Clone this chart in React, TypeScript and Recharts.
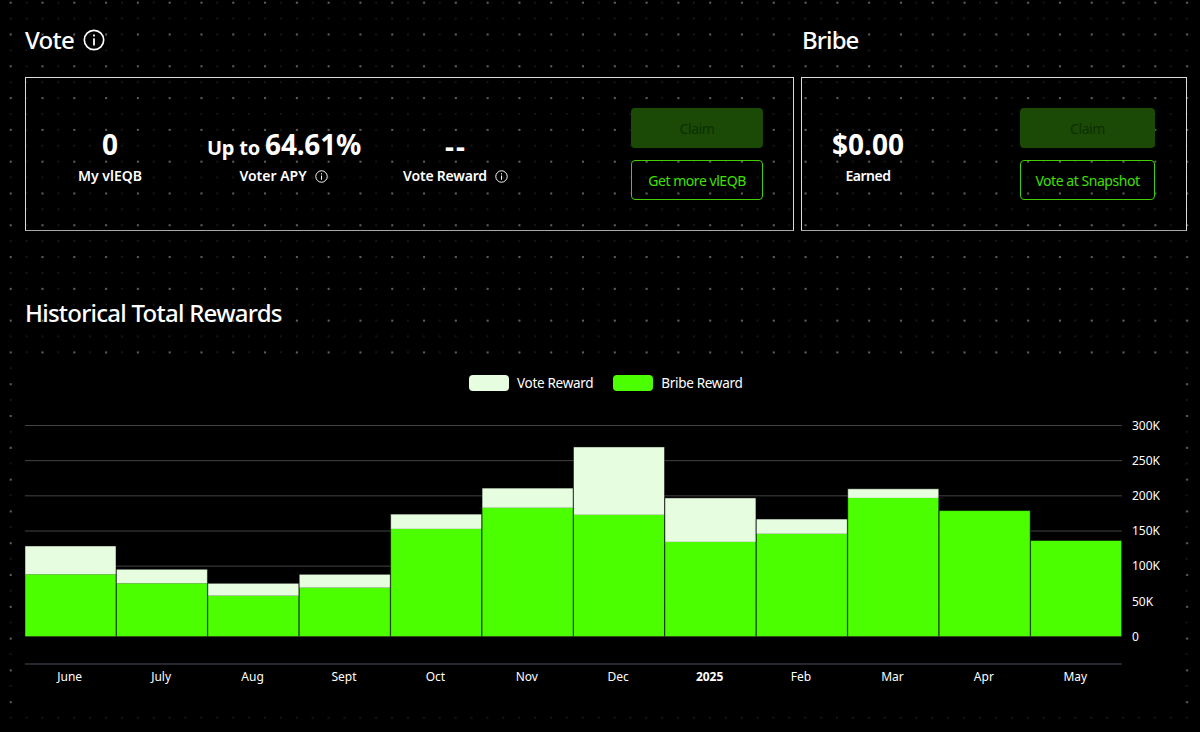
import { BarChart, Bar, XAxis, YAxis, CartesianGrid, Legend } from 'recharts';

const months = ['June', 'July', 'Aug', 'Sept', 'Oct', 'Nov', 'Dec', '2025', 'Feb', 'Mar', 'Apr', 'May'];
const bribeRewards = [88400, 75600, 58000, 69400, 153000, 183000, 173000, 134500, 146000, 197000, 179000, 136500];
const voteRewards = [40300, 20000, 17600, 19000, 21000, 28000, 96500, 62500, 21000, 13000, 0, 0];
const yTicks = [0, 50000, 100000, 150000, 200000, 250000, 300000];

const VOTE_COLOR = '#e6fde0';
const BRIBE_COLOR = '#4cff00';
const EDGE = 'rgba(0,0,0,0.45)';
const FONT = '"Noto Sans", sans-serif';

const chartData = months.map((month, i) => ({
  month,
  bribe: bribeRewards[i],
  vote: voteRewards[i],
}));

const legendItems = [
  { label: 'Vote Reward', color: VOTE_COLOR },
  { label: 'Bribe Reward', color: BRIBE_COLOR },
];

function Label({ x, y, size, weight = 400, color = '#fff', center = false, spacing = 0, children }: any) {
  return (
    <div
      style={{
        position: 'absolute',
        left: x,
        top: y,
        transform: center ? 'translate(-50%, -50%)' : 'translateY(-50%)',
        fontSize: size,
        fontWeight: weight,
        color,
        fontFamily: FONT,
        letterSpacing: spacing,
        whiteSpace: 'nowrap',
        lineHeight: 1,
      }}
    >
      {children}
    </div>
  );
}

function InfoIcon({ x, y, r }: { x: number; y: number; r: number }) {
  const s = r * 2 + 2;
  return (
    <svg
      width={s}
      height={s}
      viewBox="-10 -10 20 20"
      style={{ position: 'absolute', left: x - s / 2, top: y - s / 2 }}
    >
      <circle cx={0} cy={0} r={8.8} fill="none" stroke="#fff" strokeWidth={1.5} />
      <rect x={-0.8} y={-1.5} width={1.6} height={6.5} fill="#fff" />
      <rect x={-0.8} y={-5} width={1.6} height={1.8} fill="#fff" />
    </svg>
  );
}

function Panel({ x, w }: { x: number; w: number }) {
  return (
    <div
      style={{
        position: 'absolute',
        left: x,
        top: 77,
        width: w,
        height: 154,
        boxSizing: 'border-box',
        border: '1px solid #dcdcdc',
        borderBottomColor: '#a8a8a8',
      }}
    />
  );
}

function Button({ x, y, w, label, filled }: { x: number; y: number; w: number; label: string; filled: boolean }) {
  return (
    <div
      style={{
        position: 'absolute',
        left: x,
        top: y,
        width: w,
        height: 40,
        boxSizing: 'border-box',
        borderRadius: 4,
        background: filled ? '#1a4a05' : 'transparent',
        border: filled ? 'none' : '1px solid #3fd00a',
        color: filled ? '#0c3002' : '#3fe000',
        fontFamily: FONT,
        fontSize: 14,
        letterSpacing: -0.45,
        display: 'flex',
        alignItems: 'center',
        justifyContent: 'center',
      }}
    >
      {label}
    </div>
  );
}

function MonthTick({ x, y, payload }: any) {
  const isYear = payload.value === '2025';
  return (
    <text
      x={x - 1}
      y={y}
      dy={9}
      textAnchor="middle"
      fill="#fff"
      fontSize={12}
      fontWeight={isYear ? 700 : 400}
      fontFamily={FONT}
    >
      {payload.value}
    </text>
  );
}

// plain stroke would also draw a dark line where the two stacked parts meet
function BribeBar({ x, y, width, height, payload }: any) {
  const top = payload.vote === 0 ? `M${x},${y} H${x + width}` : '';
  return (
    <g>
      <rect x={x} y={y} width={width} height={height} fill={BRIBE_COLOR} />
      <path d={`M${x},${y} V${y + height} H${x + width} V${y} ${top}`} fill="none" stroke={EDGE} />
    </g>
  );
}

function VoteBar({ x, y, width, height }: any) {
  if (!height) return null;
  return (
    <g>
      <rect x={x} y={y} width={width} height={height} fill={VOTE_COLOR} />
      <path d={`M${x},${y + height} V${y} H${x + width} V${y + height}`} fill="none" stroke={EDGE} />
    </g>
  );
}

function ChartLegend() {
  return (
    <div style={{ position: 'relative', height: 16, width: 1150, fontFamily: FONT }}>
      <div style={{ position: 'absolute', left: 444, top: 0, display: 'flex', alignItems: 'center' }}>
        {legendItems.map((item) => (
          <div key={item.label} style={{ display: 'flex', alignItems: 'center', marginRight: 20 }}>
            <span
              style={{
                display: 'inline-block',
                width: 40,
                height: 16,
                borderRadius: 4,
                background: item.color,
                marginRight: 8,
              }}
            />
            <span style={{ color: '#fff', fontSize: 13.5, letterSpacing: -0.3, lineHeight: '16px' }}>{item.label}</span>
          </div>
        ))}
      </div>
    </div>
  );
}

export default function App() {
  return (
    <div
      style={{
        position: 'fixed',
        left: 0,
        top: 0,
        width: 1200,
        height: 732,
        overflow: 'hidden',
        backgroundColor: '#000',
        backgroundImage:
          'radial-gradient(circle, #777 0.6px, transparent 1px), radial-gradient(circle, #2c2c2c 0.5px, transparent 0.9px)',
        backgroundSize: '31.8px 31.8px, 15.9px 15.9px',
        backgroundPosition: '-5.2px -13.2px, 2.75px -5.25px',
      }}
    >
      <Label x={25} y={39.5} size={24} weight={500} spacing={-0.7}>Vote</Label>
      <InfoIcon x={94} y={39.5} r={10} />
      <Label x={802} y={39.5} size={24} weight={500} spacing={-0.9}>Bribe</Label>

      <Panel x={25} w={769} />
      <Panel x={801} w={386} />

      <Label x={110} y={144} size={28} weight={700} center>0</Label>
      <Label x={110} y={176} size={14} weight={600} center>My vlEQB</Label>

      <Label x={284} y={144} size={20} weight={700} center spacing={-0.2}>
        Up to <span style={{ fontSize: 28 }}>64.61%</span>
      </Label>
      <Label x={273} y={176} size={14} weight={600} center>Voter APY</Label>
      <InfoIcon x={321} y={176} r={5.5} />

      <Label x={456} y={146} size={28} weight={700} center spacing={2}>--</Label>
      <Label x={445} y={176} size={14} weight={600} center spacing={-0.2}>Vote Reward</Label>
      <InfoIcon x={501} y={176} r={5.5} />

      <Button x={631} y={108} w={132} label="Claim" filled />
      <Button x={631} y={160} w={132} label="Get more vlEQB" filled={false} />

      <Label x={868} y={144} size={28} weight={700} center>$0.00</Label>
      <Label x={868} y={176} size={14} weight={600} center spacing={-0.5}>Earned</Label>

      <Button x={1020} y={108} w={135} label="Claim" filled />
      <Button x={1020} y={160} w={135} label="Vote at Snapshot" filled={false} />

      <Label x={25} y={313} size={24} weight={500} spacing={-0.75}>Historical Total Rewards</Label>

      <div style={{ position: 'absolute', left: 25, top: 360, width: 1150, height: 348, background: '#000' }}>
        <BarChart
          width={1150}
          height={348}
          data={chartData}
          barCategoryGap={0}
          margin={{ top: 49.5, right: 0, bottom: 0, left: 0 }}
        >
          <CartesianGrid vertical={false} stroke="#444" />
          <Legend verticalAlign="top" height={16} wrapperStyle={{ top: 15, left: 0 }} content={<ChartLegend />} />
          <XAxis
            dataKey="month"
            interval={0}
            height={44}
            tickLine={false}
            axisLine={{ stroke: '#2a2a44' }}
            tick={<MonthTick />}
          />
          <YAxis
            orientation="right"
            width={53}
            domain={[0, 300000]}
            ticks={yTicks}
            padding={{ top: 0, bottom: 27.5 }}
            axisLine={false}
            tickLine={false}
            tickSize={0}
            tickMargin={10}
            tick={{ fill: '#fff', fontSize: 12, fontFamily: FONT }}
            tickFormatter={(v: number) => (v === 0 ? '0' : `${v / 1000}K`)}
          />
          <Bar dataKey="bribe" stackId="rewards" fill={BRIBE_COLOR} shape={<BribeBar />} isAnimationActive={false} />
          <Bar dataKey="vote" stackId="rewards" fill={VOTE_COLOR} shape={<VoteBar />} isAnimationActive={false} />
        </BarChart>
      </div>
    </div>
  );
}
